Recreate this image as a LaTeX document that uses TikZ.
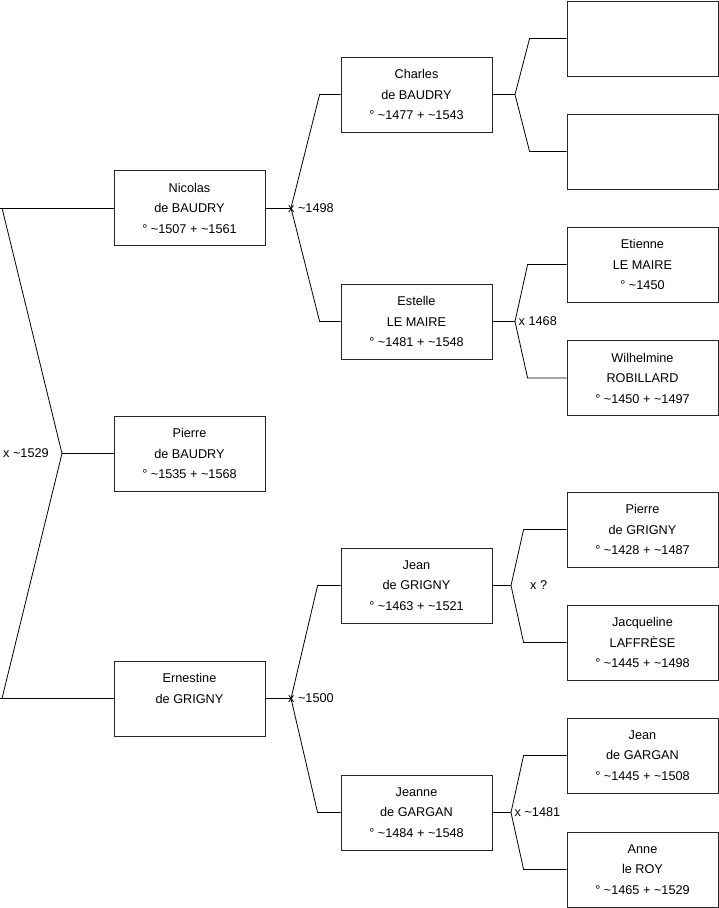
\documentclass[tikz,border=0pt]{standalone}
\usepackage{fontspec}
\setmainfont{Liberation Sans}
\begin{document}
\begin{tikzpicture}[x=1pt,y=-1pt,
  person/.style={draw=black!85,line width=0.8pt,minimum width=151pt,minimum height=75pt,
    inner sep=0pt,align=center,font=\fontsize{12.7}{20.5}\selectfont},
  link/.style={draw=black,line width=0.8pt},
  mlabel/.style={anchor=west,inner sep=0pt,font=\fontsize{12.7}{15}\selectfont}]
\useasboundingbox (0,0) rectangle (719,908);
% persons
\node[person] (nicolas) at (189.5,208) {Nicolas\\de BAUDRY\\° \textasciitilde1507 + \textasciitilde1561};
\node[person] (pierre) at (189.5,453.5) {Pierre\\de BAUDRY\\° \textasciitilde1535 + \textasciitilde1568};
\node[person] (ernestine) at (189.5,698.5) {Ernestine\\de GRIGNY\\\mbox{}};
\node[person] (charles) at (416.5,94.5) {Charles\\de BAUDRY\\° \textasciitilde1477 + \textasciitilde1543};
\node[person] (estelle) at (416.5,321.5) {Estelle\\LE MAIRE\\° \textasciitilde1481 + \textasciitilde1548};
\node[person] (jeang) at (416.5,585.5) {Jean\\de GRIGNY\\° \textasciitilde1463 + \textasciitilde1521};
\node[person] (jeanne) at (416.5,812.5) {Jeanne\\de GARGAN\\° \textasciitilde1484 + \textasciitilde1548};
\node[person] (emptya) at (642.5,38.5) {};
\node[person] (emptyb) at (642.5,151.5) {};
\node[person] (etienne) at (642.5,264.5) {Etienne\\LE MAIRE\\° \textasciitilde1450};
\node[person] (wilh) at (642.5,378) {Wilhelmine\\ROBILLARD\\° \textasciitilde1450 + \textasciitilde1497};
\node[person] (pierreg) at (642.5,529.5) {Pierre\\de GRIGNY\\° \textasciitilde1428 + \textasciitilde1487};
\node[person] (jacq) at (642.5,642.5) {Jacqueline\\LAFFRÈSE\\° \textasciitilde1445 + \textasciitilde1498};
\node[person] (jeangarg) at (642.5,755.5) {Jean\\de GARGAN\\° \textasciitilde1445 + \textasciitilde1508};
\node[person] (anne) at (642.5,869.5) {Anne\\le ROY\\° \textasciitilde1465 + \textasciitilde1529};
% fork points
\coordinate (froot) at (62,453.5);
\coordinate (rtop) at (2,208);
\coordinate (rbot) at (2,698.5);
\coordinate (fa) at (291,208);
\coordinate (fb) at (515,94.5);
\coordinate (fc) at (515,321.5);
\coordinate (fd) at (511,585.5);
\coordinate (fe) at (291,698.5);
\coordinate (ff) at (511,812.5);
% root fork
\draw[link] (nicolas.west) -- (0,208);
\draw[link] (ernestine.west) -- (0,698.5);
\draw[link] (rtop) -- (froot) -- (rbot);
\draw[link] (froot) -- (pierre.west);
% nicolas fork
\draw[link] (nicolas.east) -- (fa);
\draw[link] (charles.west) -- ([xshift=-21pt]charles.west) -- (fa) -- ([xshift=-21pt]estelle.west) -- (estelle.west);
% charles fork
\draw[link] (charles.east) -- (fb);
\draw[link] (emptya.west) -- ([xshift=-37pt]emptya.west) -- (fb) -- ([xshift=-37pt]emptyb.west) -- (emptyb.west);
% estelle fork
\draw[link] (estelle.east) -- (fc);
\draw[link] (etienne.west) -- ([xshift=-39pt]etienne.west) -- (fc) -- ([xshift=-39pt]wilh.west) -- (wilh.west);
% jean de grigny fork
\draw[link] (jeang.east) -- (fd);
\draw[link] (pierreg.west) -- ([xshift=-43pt]pierreg.west) -- (fd) -- ([xshift=-43pt]jacq.west) -- (jacq.west);
% ernestine fork
\draw[link] (ernestine.east) -- (fe);
\draw[link] (jeang.west) -- ([xshift=-23pt]jeang.west) -- (fe) -- ([xshift=-23pt]jeanne.west) -- (jeanne.west);
% jeanne fork
\draw[link] (jeanne.east) -- (ff);
\draw[link] (jeangarg.west) -- ([xshift=-43pt]jeangarg.west) -- (ff) -- ([xshift=-43pt]anne.west) -- (anne.west);
% marriage labels
\node[mlabel] (mroot) at (3,453.5) {x \textasciitilde1529};
\node[mlabel] (ma) at (288,208) {x \textasciitilde1498};
\node[mlabel] (mc) at (518.5,321.5) {x 1468};
\node[mlabel] (md) at (530,585.5) {x ?};
\node[mlabel] (me) at (288,698.5) {x \textasciitilde1500};
\node[mlabel] (mf) at (514.5,812.5) {x \textasciitilde1481};
\end{tikzpicture}
\end{document}
